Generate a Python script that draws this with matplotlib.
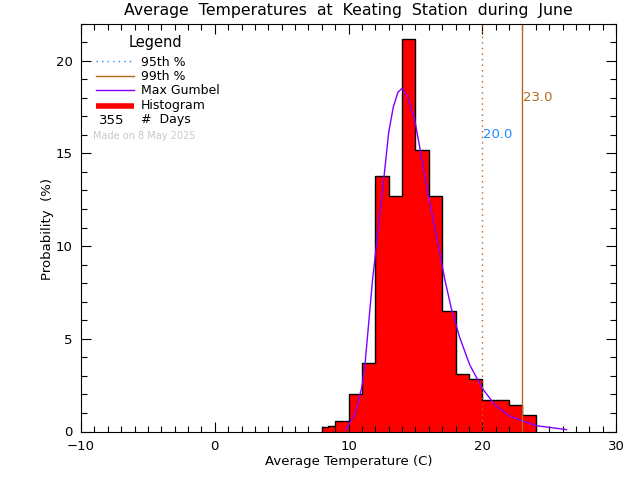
import matplotlib
matplotlib.use('Agg')
import matplotlib.pyplot as plt
from matplotlib.ticker import MultipleLocator

# Histogram
bin_edges = [8, 8.5, 9, 10, 11, 12, 13, 14, 15, 16, 17, 18, 19, 20, 21, 22, 23, 24]
probability = [0.25, 0.3, 0.56, 2.0, 3.68, 13.8, 12.68, 21.15, 15.2, 12.68, 6.5, 3.09, 2.82, 1.69, 1.69, 1.42, 0.88]

# Max Gumbel curve
gumbel_x = [9.8, 10.5, 11.0, 11.24, 11.8, 12.3, 12.65, 13.0, 13.35, 13.7, 14.0, 14.43, 14.95,
            15.46, 15.95, 16.35, 17.2, 17.7, 18.3, 19.06, 20.0, 20.95, 22.07, 23.0, 24.07, 25.8, 26.3]
gumbel_y = [0.1, 0.98, 2.4, 3.67, 8.2, 11.4, 13.7, 16.1, 17.5, 18.3, 18.5, 18.05, 16.8,
            14.8, 12.75, 11.4, 8.2, 6.6, 5.1, 3.6, 2.33, 1.43, 0.83, 0.57, 0.31, 0.15, 0.1]

p95 = 20.0
p99 = 23.0
n_days = 355

BROWN = '#b4691e'
BLUE = '#1e8cff'
PURPLE = '#8000ff'

plt.rcParams['font.family'] = 'DejaVu Sans'
plt.rcParams['font.size'] = 9.5

fig = plt.figure(figsize=(6.4, 4.8), dpi=100)
ax = fig.add_axes([81 / 640, (480 - 431.5) / 480, 535 / 640, 408 / 480])

ax.stairs(probability, bin_edges, fill=True, color='red', zorder=2)
ax.stairs(probability, bin_edges, baseline=0, color='black', linewidth=1.0, zorder=3)
ax.plot(gumbel_x, gumbel_y, color=PURPLE, linewidth=1, zorder=4)
ax.axvline(p95, color=BROWN, linestyle=(0, (1, 3)), linewidth=1, zorder=5)
ax.axvline(p99, color=BROWN, linewidth=1, zorder=5)
ax.text(p95 + 0.02, 16, '%.1f' % p95, color=BLUE, ha='left', va='center', zorder=6)
ax.text(p99 + 0.02, 18, '%.1f' % p99, color=BROWN, ha='left', va='center', zorder=6)

ax.set_xlim(-10, 30)
ax.set_ylim(0, 22)
ax.xaxis.set_major_locator(MultipleLocator(10))
ax.xaxis.set_minor_locator(MultipleLocator(1))
ax.yaxis.set_major_locator(MultipleLocator(5))
ax.yaxis.set_minor_locator(MultipleLocator(1))
ax.tick_params(which='major', direction='in', top=True, right=True, length=7.5, width=0.8, pad=6)
ax.tick_params(which='minor', direction='in', top=True, right=True, length=4, width=0.8)
ax.set_axisbelow(False)
for spine in ax.spines.values():
    spine.set_zorder(10)

fig.text(349 / 640, 1 - 461 / 480, 'Average Temperature (C)', ha='center', va='center')
fig.text(47 / 640, 1 - 229 / 480, 'Probability  (%)', rotation=90, ha='center', va='center')
fig.text(348 / 640, 1 - 10 / 480, 'Average  Temperatures  at  Keating  Station  during  June',
         ha='center', va='center', fontsize=11.35)

# Legend is hand placed like in the original plot
def leg_line(y, **kw):
    fig.add_artist(plt.Line2D([96 / 640, 134 / 640], [1 - y / 480, 1 - y / 480], **kw))

def leg_text(x, y, s, **kw):
    fig.text(x / 640, 1 - y / 480, s, ha='left', va='center', **kw)

leg_text(129, 43, 'Legend', fontsize=10.5)
leg_line(61, color=BLUE, linestyle=(0, (1, 3)), linewidth=1)
leg_text(141, 62, '95th %', fontsize=9)
leg_line(76, color=BROWN, linewidth=1)
leg_text(141, 76, '99th %', fontsize=9)
leg_line(90, color=PURPLE, linewidth=1)
leg_text(141, 91, 'Max Gumbel', fontsize=9)
leg_line(106, color='red', linewidth=4, solid_capstyle='butt')
leg_text(141, 106, 'Histogram', fontsize=9)
leg_text(99, 120, str(n_days))
leg_text(141, 120, '#  Days', fontsize=9)
leg_text(93, 136, 'Made on 8 May 2025', color='#c8c8c8', fontsize=7)

fig.savefig('out.png', dpi=100)
